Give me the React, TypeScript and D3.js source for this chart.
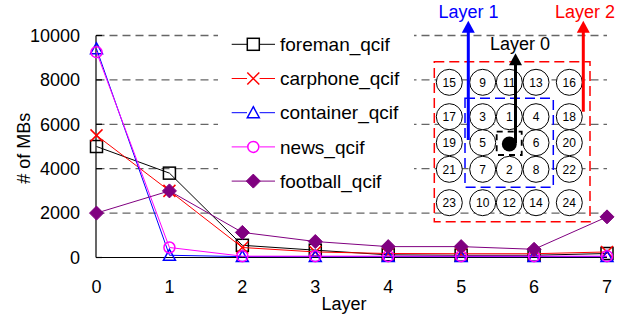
import React from "react";
import * as d3 from "d3";

const layers = [0, 1, 2, 3, 4, 5, 6, 7];
const yTicks = [0, 2000, 4000, 6000, 8000, 10000];

const foreman = [5000, 3800, 550, 330, 120, 100, 100, 180];
const carphone = [5500, 3000, 450, 250, 180, 170, 170, 250];
const container = [9400, 100, 40, 40, 40, 40, 40, 40];
const news = [9250, 450, 60, 60, 60, 60, 60, 60];
const football = [2000, 3000, 1130, 720, 490, 490, 370, 1830];

const seriesNames = ["foreman_qcif", "carphone_qcif", "container_qcif", "news_qcif", "football_qcif"];
const seriesValues = [foreman, carphone, container, news, football];
const seriesColors = ["#000000", "#ff0000", "#0000ff", "#ff00ff", "#800080"];
const seriesMarkers = ["square", "cross", "triangle", "circle", "diamond"];

// inset: macroblock ordering grid
const gridLabels = [
  ["15", "9", "11", "13", "16"],
  ["17", "3", "1", "4", "18"],
  ["19", "5", "", "6", "20"],
  ["21", "7", "2", "8", "22"],
  ["23", "10", "12", "14", "24"],
];
const arrowLabels = ["Layer 0", "Layer 1", "Layer 2"];

const FONT = "Liberation Sans, Arial, Helvetica, sans-serif";

function Marker({ kind, x, y, color }: { kind: string; x: number; y: number; color: string }) {
  if (kind === "square")
    return <rect x={x - 6} y={y - 6} width={12} height={12} fill="none" stroke={color} strokeWidth={1.5} />;
  if (kind === "cross")
    return (
      <path d={`M${x - 6},${y - 6}L${x + 6},${y + 6}M${x - 6},${y + 6}L${x + 6},${y - 6}`} stroke={color} strokeWidth={1.5} />
    );
  if (kind === "triangle")
    return <path d={`M${x},${y - 6}L${x + 6},${y + 5}L${x - 6},${y + 5}Z`} fill="none" stroke={color} strokeWidth={1.5} />;
  if (kind === "circle") return <circle cx={x} cy={y} r={5.5} fill="none" stroke={color} strokeWidth={1.5} />;
  return <path d={`M${x},${y - 7}L${x + 7},${y}L${x},${y + 7}L${x - 7},${y}Z`} fill={color} stroke={color} />;
}

export default function App() {
  const width = 642;
  const height = 322;

  const x = d3.scaleLinear().domain([0, 7]).range([96.5, 607]);
  const y = d3.scaleLinear().domain([0, 10000]).range([257.5, 35.5]);

  const line = (vals: number[]) =>
    d3
      .line<number>()
      .x((_, i) => x(layers[i]))
      .y((d) => y(d))(vals) as string;

  const colX = [449.3, 482.7, 509.3, 536, 569.3];
  const rowY = [82.3, 116.7, 142.7, 169.3, 202.7];

  const arrow = (ax: number, y0: number, tip: number, color: string) => (
    <g>
      <line x1={ax} x2={ax} y1={y0} y2={tip + 11} stroke={color} strokeWidth={3} />
      <path d={`M${ax},${tip}L${ax + 6.5},${tip + 12}L${ax - 6.5},${tip + 12}Z`} fill={color} />
    </g>
  );

  return (
    <svg
      width={width}
      height={height}
      style={{ position: "absolute", left: 0, top: 0, background: "#fff" }}
      fontFamily={FONT}
    >
      {/* grid */}
      {yTicks.slice(1).map((t) => (
        <line key={t} x1={x(0)} x2={607} y1={y(t)} y2={y(t)} stroke="#666" strokeWidth={1.3} strokeDasharray="8,5" />
      ))}
      {/* axes */}
      <line x1={96} x2={96} y1={y(10000)} y2={y(0)} stroke="#000" strokeWidth={1.2} />
      <line x1={96} x2={607} y1={y(0)} y2={y(0)} stroke="#000" strokeWidth={1.2} />
      {yTicks.map((t) => (
        <g key={t}>
          <line x1={96} x2={102} y1={y(t)} y2={y(t)} stroke="#000" strokeWidth={1.2} />
          <text x={80} y={y(t)} dy="0.35em" textAnchor="end" fontSize={18}>
            {t}
          </text>
        </g>
      ))}
      {layers.map((l) => (
        <text key={l} x={x(l)} y={292.5} textAnchor="middle" fontSize={18}>
          {l}
        </text>
      ))}
      <text x={344} y={310} textAnchor="middle" fontSize={18}>
        Layer
      </text>
      <text transform="translate(29.5,148.3) rotate(-90)" textAnchor="middle" fontSize={18}>
        # of MBs
      </text>

      {/* inset diagram */}
      <rect x={434.3} y={61.7} width={155.7} height={160} fill="none" stroke="#ff0000" strokeWidth={1.5} strokeDasharray="10,5" />
      <rect x={465} y={98.3} width={88.3} height={89} fill="none" stroke="#0000ff" strokeWidth={1.5} strokeDasharray="10,5" />
      {gridLabels.map((row, r) =>
        row.map((lab, c) =>
          lab ? (
            <g key={`${r}-${c}`}>
              <circle cx={colX[c]} cy={rowY[r]} r={13} fill="#fff" stroke="#000" strokeWidth={1} />
              <text x={colX[c]} y={rowY[r]} dy="0.36em" textAnchor="middle" fontSize={12}>
                {lab}
              </text>
            </g>
          ) : null
        )
      )}
      <rect x={496.7} y={131.7} width={25} height={23.3} fill="none" stroke="#000" strokeWidth={1.8} strokeDasharray="6,5" />
      <circle cx={509.3} cy={144} r={7.5} fill="#000" />
      {arrow(515.5, 143, 53.3, "#000")}
      {arrow(468.3, 140, 20.7, "#0000ff")}
      {arrow(583.3, 111.7, 20.7, "#ff0000")}
      <text x={520} y={50} textAnchor="middle" fontSize={18} fill="#000">
        {arrowLabels[0]}
      </text>
      <text x={468.5} y={17.5} textAnchor="middle" fontSize={18} fill="#0000ff">
        {arrowLabels[1]}
      </text>
      <text x={585} y={17.5} textAnchor="middle" fontSize={18} fill="#ff0000">
        {arrowLabels[2]}
      </text>

      {/* series */}
      {seriesValues.map((vals, s) => (
        <g key={seriesNames[s]}>
          <path d={line(vals)} fill="none" stroke={seriesColors[s]} strokeWidth={1} />
          {vals.map((v, i) => (
            <Marker key={i} kind={seriesMarkers[s]} x={x(layers[i])} y={y(v)} color={seriesColors[s]} />
          ))}
        </g>
      ))}

      {/* legend */}
      <rect x={218} y={26} width={196} height={174} fill="#fff" />
      {seriesNames.map((name, s) => {
        const ly = 44.3 + s * 34.2;
        return (
          <g key={name}>
            <line x1={231.7} x2={247} y1={ly} y2={ly} stroke={seriesColors[s]} strokeWidth={1} />
            <line x1={259.6} x2={275} y1={ly} y2={ly} stroke={seriesColors[s]} strokeWidth={1} />
            <Marker kind={seriesMarkers[s]} x={253.3} y={ly} color={seriesColors[s]} />
            <text x={280} y={ly} dy="0.35em" fontSize={19}>
              {name}
            </text>
          </g>
        );
      })}
    </svg>
  );
}
